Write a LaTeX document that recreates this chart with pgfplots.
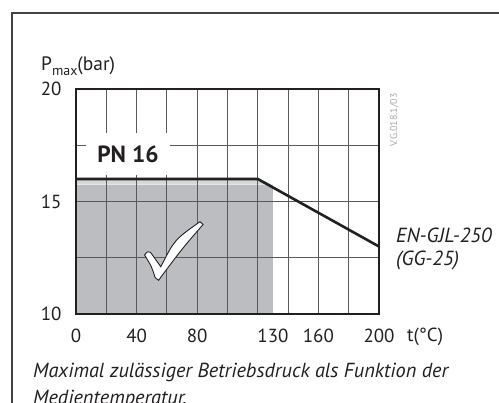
\documentclass[border=0pt]{standalone}
\usepackage{fontspec}
\setmainfont{PT Sans}
\usepackage{pgfplots}
\pgfplotsset{compat=1.18}
\definecolor{ink}{HTML}{231F20}
\definecolor{gridc}{HTML}{58595B}
\definecolor{fillc}{HTML}{BCBDC0}
\definecolor{fillb}{HTML}{D6D7D9}
\definecolor{codec}{HTML}{A7A9AC}
\begin{document}
\begin{tikzpicture}
\draw[line width=1.3bp, ink!85] (12bp,-410bp) -- (12bp,-13bp) -- (510bp,-13bp);
\begin{axis}[
 set layers,
 at={(76bp,-314bp)}, anchor=south west,
 scale only axis, width=303bp, height=225bp,
 xmin=0,xmax=200,ymin=10,ymax=20,
 xtick={0,20,...,200}, xticklabels={0,,40,,80,,,,160,,200},
 extra x ticks={130}, extra x tick labels={130}, extra x tick style={grid=none},
 ytick={10,12.5,15,17.5,20}, yticklabels={10,,15,,20},
 grid=major, major grid style={gridc, line width=1.1bp},
 axis line style={ink, line width=1.1bp},
 major tick length=0,
 tick label style={font=\fontsize{19}{22}\selectfont, text=ink},
 /pgf/number format/assume math mode=true,
 xticklabel style={yshift=-11bp},
 yticklabel style={xshift=-11bp},
 clip=false,
]
\addplot[fill=fillc, draw=none, on layer=axis background] coordinates {(0,10) (0,15.75) (130,15.75) (130,10)} -- cycle;
\addplot[fill=fillb, draw=none, on layer=axis background] coordinates {(0,15.75) (0,16) (120,16) (130,15.75)} -- cycle;
\addplot[ink, line width=2.6bp] coordinates {(0,16) (120,16) (200,13)};
\node[fill=white, inner sep=0pt, minimum width=84bp, minimum height=42bp, font=\bfseries\fontsize{23.5}{26}\selectfont, text=ink] at (axis cs:34.3,17.11) {PN 16};
\draw[fill=white, draw=ink, line width=0.9bp] (axis cs:45.3,12.62) .. controls (axis cs:47,12.78) .. (axis cs:49.2,12.74) -- (axis cs:56,12.1) .. controls (axis cs:65,13.3) .. (axis cs:81.8,14.1) -- (axis cs:83.9,13.98) .. controls (axis cs:70,12.9) .. (axis cs:54.5,11.5) -- (axis cs:52.2,11.62) .. controls (axis cs:50,12.1) .. (axis cs:45.3,12.62) -- cycle;
\end{axis}
\node[anchor=base west, inner sep=0pt, font=\fontsize{19.5}{22}\selectfont, text=ink] at (41bp,-70bp) {P\raisebox{-5bp}{\fontsize{14}{14}\selectfont max}(bar)};
\node[anchor=base west, inner sep=0pt, font=\fontsize{19}{22}\selectfont, text=ink] at (407bp,-341bp) {t(°C)};
\node[anchor=base west, inner sep=0pt, font=\itshape\fontsize{20.5}{22}\selectfont, text=ink] at (396bp,-242bp) {EN-GJL-250};
\node[anchor=base west, inner sep=0pt, font=\itshape\fontsize{20.5}{22}\selectfont, text=ink] at (396bp,-265bp) {(GG-25)};
\node[rotate=90, anchor=base west, inner sep=0pt, font=\fontsize{10}{10}\selectfont, text=codec] at (397bp,-147bp) {V.G.018.1/03};
\node[anchor=base west, inner sep=0pt, font=\itshape\fontsize{20.4}{22}\selectfont, text=ink] at (33bp,-377bp) {Maximal zulässiger Betriebsdruck als Funktion der};
\node[anchor=base west, inner sep=0pt, font=\itshape\fontsize{20.4}{22}\selectfont, text=ink] at (33bp,-404bp) {Medientemperatur.};
\pgfresetboundingbox
\path[use as bounding box] (0bp,0bp) rectangle (499bp,-403bp);
\end{tikzpicture}
\end{document}
